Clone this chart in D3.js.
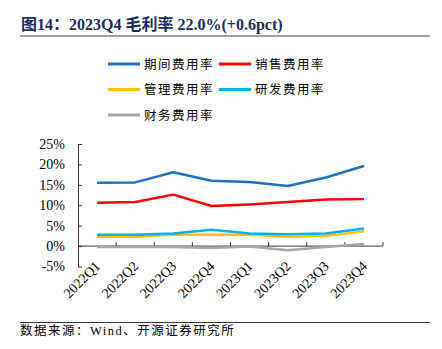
<!DOCTYPE html>
<html>
<head>
<meta charset="utf-8">
<script src="https://cdn.jsdelivr.net/npm/d3@7"></script>
<style>
  body { margin: 0; background: #fff; }
  text { font-family: "Liberation Serif", "Times New Roman", "Noto Sans CJK SC", serif; }
  .cjk { font-family: "Liberation Serif", "Noto Sans CJK SC", serif; }
</style>
</head>
<body>
<div id="chart"></div>
<script>
const WIDTH = 442;
const HEIGHT = 349;

const quarters = ['2022Q1', '2022Q2', '2022Q3', '2022Q4', '2023Q1', '2023Q2', '2023Q3', '2023Q4'];
const periodRate = [15.5, 15.6, 18.1, 16.0, 15.7, 14.7, 16.8, 19.6];
const salesRate  = [10.6, 10.8, 12.6, 9.8, 10.2, 10.8, 11.4, 11.5];
const adminRate  = [2.3, 2.3, 2.8, 2.8, 2.8, 2.3, 2.5, 3.6];
const rdRate     = [2.8, 2.8, 3.1, 4.0, 3.1, 2.9, 3.1, 4.3];
const financeRate = [-0.2, -0.2, -0.2, -0.5, -0.1, -1.0, -0.2, 0.5];
const yTicks = [-5, 0, 5, 10, 15, 20, 25];

const series = [
  { name: '期间费用率', values: periodRate, color: '#1f70c1' },
  { name: '销售费用率', values: salesRate, color: '#ff0000' },
  { name: '管理费用率', values: adminRate, color: '#ffc000' },
  { name: '研发费用率', values: rdRate, color: '#00b0f0' },
  { name: '财务费用率', values: financeRate, color: '#a5a5a5' }
];

const svg = d3.select('#chart').append('svg')
  .attr('width', WIDTH)
  .attr('height', HEIGHT);

// title and rule under it
svg.append('text')
  .attr('x', 21)
  .attr('y', 30)
  .attr('fill', '#1c2a63')
  .attr('font-size', 16)
  .attr('font-weight', 'bold')
  .text('图14：2023Q4 毛利率 22.0%(+0.6pct)');

svg.append('line')
  .attr('x1', 20).attr('x2', 430)
  .attr('y1', 36).attr('y2', 36)
  .attr('stroke', '#7f7f7f')
  .attr('stroke-width', 1.5);

// legend, two columns
const legend = svg.append('g');
series.forEach(function (s, i) {
  var lx = i % 2 === 0 ? 108 : 219;
  var ly = 64 + Math.floor(i / 2) * 25.5;
  legend.append('line')
    .attr('x1', lx).attr('x2', lx + 32)
    .attr('y1', ly).attr('y2', ly)
    .attr('stroke', s.color)
    .attr('stroke-width', 3);
  legend.append('text')
    .attr('class', 'cjk')
    .attr('x', lx + 36)
    .attr('y', ly + 4.5)
    .attr('font-size', 12.5)
    .attr('letter-spacing', 1.5)
    .attr('fill', '#000')
    .text(s.name);
});

// scales
const x = d3.scaleBand().domain(quarters).range([78, 383]).padding(0);
const y = d3.scaleLinear().domain([-5, 25]).range([266.5, 144]);
const cx = function (q) { return x(q) + x.bandwidth() / 2; };

// y axis with inward ticks
const yAxis = svg.append('g')
  .attr('transform', 'translate(78,0)')
  .call(d3.axisLeft(y)
    .tickValues(yTicks)
    .tickSizeInner(-4)
    .tickSizeOuter(0)
    .tickPadding(13)
    .tickFormat(function (d) { return d + '%'; }));
yAxis.selectAll('text').attr('font-size', 14).attr('fill', '#000')
  .attr('font-family', '"Liberation Serif", serif');
yAxis.selectAll('line, path').attr('stroke', '#333');

// x axis line on zero with ticks between categories
const zeroY = y(0);
svg.append('line')
  .attr('x1', 78).attr('x2', 383)
  .attr('y1', zeroY).attr('y2', zeroY)
  .attr('stroke', '#333');
svg.selectAll('.xtick')
  .data(quarters.slice(1).map(function (q) { return x(q); }).concat([383]))
  .enter().append('line')
  .attr('class', 'xtick')
  .attr('x1', function (d) { return d; })
  .attr('x2', function (d) { return d; })
  .attr('y1', zeroY).attr('y2', zeroY - 4)
  .attr('stroke', '#333');

// rotated category labels below the plot
svg.selectAll('.xlabel')
  .data(quarters)
  .enter().append('text')
  .attr('class', 'xlabel')
  .attr('font-size', 14)
  .attr('fill', '#000')
  .attr('text-anchor', 'end')
  .attr('transform', function (q) {
    return 'translate(' + (cx(q) + 4) + ',' + 267 + ') rotate(-45)';
  })
  .text(function (q) { return q; });

// series lines
const line = d3.line()
  .x(function (d, i) { return cx(quarters[i]); })
  .y(function (d) { return y(d); });

svg.selectAll('.series')
  .data(series)
  .enter().append('path')
  .attr('class', 'series')
  .attr('d', function (s) { return line(s.values); })
  .attr('fill', 'none')
  .attr('stroke', function (s) { return s.color; })
  .attr('stroke-width', 2.5)
  .attr('stroke-linejoin', 'round');

// footer rule and source
svg.append('line')
  .attr('x1', 20).attr('x2', 430)
  .attr('y1', 322.5).attr('y2', 322.5)
  .attr('stroke', '#333')
  .attr('stroke-width', 1);

svg.append('text')
  .attr('class', 'cjk')
  .attr('x', 20)
  .attr('y', 335)
  .attr('font-size', 12.5)
  .attr('letter-spacing', 1.5)
  .attr('fill', '#000')
  .text('数据来源：Wind、开源证券研究所');
</script>
</body>
</html>
